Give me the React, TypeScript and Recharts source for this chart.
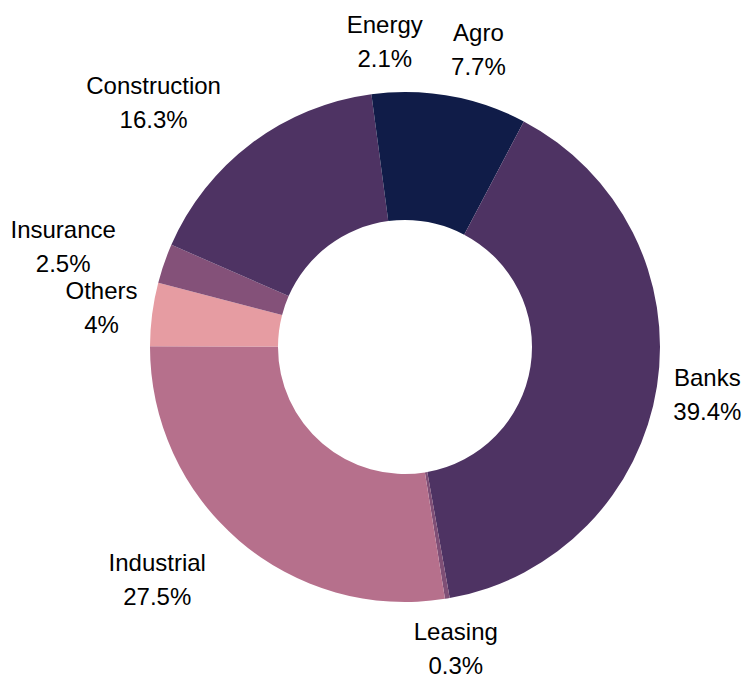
import { PieChart, Pie, Cell } from 'recharts';

const sectors = ['Agro', 'Banks', 'Leasing', 'Industrial', 'Others', 'Insurance', 'Construction', 'Energy'];
const shares = [7.7, 39.4, 0.3, 27.5, 4, 2.5, 16.3, 2.1];

const sliceColors = ['#101c48', '#4e3363', '#7f4f76', '#b6708c', '#e69ca2', '#845179', '#4e3363', '#101c48'];

const data = sectors.map((name, i) => ({ name, value: shares[i] }));

const FONT_SIZE = 24;
const FONT = `${FONT_SIZE}px "Liberation Sans", Arial, sans-serif`;
const LINE_GAP = 34;
const RADIAN = Math.PI / 180;

let ctx: CanvasRenderingContext2D | null = null;
function textWidth(s: string) {
  if (!ctx && typeof document !== 'undefined') {
    ctx = document.createElement('canvas').getContext('2d');
  }
  if (ctx) {
    ctx.font = FONT;
    return ctx.measureText(s).width;
  }
  return s.length * FONT_SIZE * 0.55;
}

// two-line label: name over percentage, pushed outward on diagonal slices
function renderLabel(props: any) {
  const { cx, cy, midAngle, outerRadius, name, value } = props;
  const r = outerRadius + 51;
  const cos = Math.cos(-midAngle * RADIAN);
  const sin = Math.sin(-midAngle * RADIAN);
  let x = cx + r * cos;
  const y = cy + r * sin;
  const pct = `${value}%`;
  if (Math.abs(cos) > 0.3 && Math.abs(cos) < 0.98) {
    const w = Math.max(textWidth(name), textWidth(pct));
    x += cos < 0 ? -w / 2 : w / 2;
  }
  return (
    <text
      x={x}
      y={y}
      textAnchor="middle"
      fill="#000"
      fontSize={FONT_SIZE}
      fontFamily='"Liberation Sans", Arial, sans-serif'
    >
      <tspan x={x} y={y - LINE_GAP / 2} dominantBaseline="central">{name}</tspan>
      <tspan x={x} y={y + LINE_GAP / 2} dominantBaseline="central">{pct}</tspan>
    </text>
  );
}

export default function App() {
  return (
    <div style={{ position: 'absolute', left: 0, top: 0, width: 745, height: 675, background: '#fff' }}>
      <PieChart width={745} height={675} margin={{ top: 0, right: 0, bottom: 0, left: 0 }}>
        <Pie
          data={data}
          dataKey="value"
          nameKey="name"
          cx={405}
          cy={347}
          innerRadius={127}
          outerRadius={255}
          startAngle={90}
          endAngle={-270}
          stroke="none"
          label={renderLabel}
          labelLine={false}
          isAnimationActive={false}
        >
          {data.map((d, i) => (
            <Cell key={d.name} fill={sliceColors[i]} />
          ))}
        </Pie>
      </PieChart>
    </div>
  );
}
